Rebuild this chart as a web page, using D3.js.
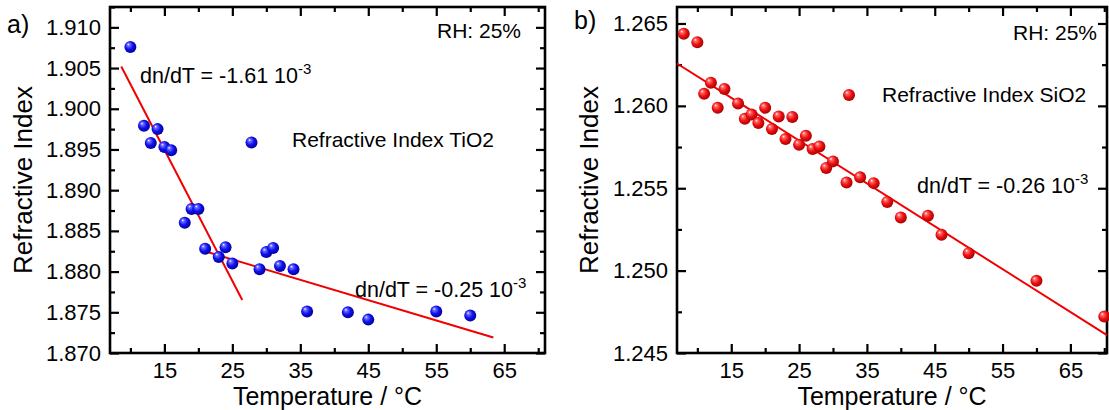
<!DOCTYPE html>
<html><head><meta charset="utf-8">
<script src="https://cdn.jsdelivr.net/npm/d3@7"></script>
<style>
html,body{margin:0;padding:0;background:#fff;}
svg{display:block;font-family:"Liberation Sans",Arial,sans-serif;}
</style></head>
<body><svg id="c" width="1109" height="410"></svg>
<script>
// ---- data ----
const tioTemp = [10,12,13,14,15,16,18,19,20,21,23,24,25,29,30,31,32,34,36,42,45,55,60];
const tioIndex = [1.9076,1.8979,1.8958,1.8975,1.8953,1.8949,1.8860,1.8877,1.8877,1.8828,1.8818,1.8830,1.8810,1.8803,1.8824,1.8829,1.8807,1.8803,1.8751,1.8750,1.8741,1.8751,1.8746];
const sioTemp = [8,10,11,12,13,14,16,17,18,19,20,21,22,23,24,25,26,27,28,29,30,32,34,36,38,40,44,46,50,60,70];
const sioIndex = [1.26437,1.26386,1.26073,1.26140,1.25988,1.26103,1.26014,1.25922,1.25947,1.25896,1.25988,1.25860,1.25936,1.25799,1.25933,1.25764,1.25819,1.25738,1.25754,1.25623,1.25663,1.25535,1.25566,1.25531,1.25417,1.25323,1.25333,1.25217,1.25106,1.24938,1.24721];
const fitA_T = [8.66, 26.46], fitA_N = [1.9052, 1.8765];
const fitB_T = [21.34, 63.4], fitB_N = [1.8824, 1.8719];
const fitC_T = [7, 70.4], fitC_N = [1.26257, 1.24609];
const xTicks = [15,25,35,45,55,65];
const xMinor = [10,20,30,40,50,60,70];
const yTicksA = [1.870,1.875,1.880,1.885,1.890,1.895,1.900,1.905,1.910];
const yTicksB = [1.245,1.250,1.255,1.260,1.265];

const svg = d3.select("#c");
const defs = svg.append("defs");
function grad(id, light, mid, dark){
  const g = defs.append("radialGradient").attr("id", id)
    .attr("cx","45%").attr("cy","45%").attr("r","60%").attr("fx","32%").attr("fy","28%");
  g.append("stop").attr("offset","0%").attr("stop-color","#ffffff");
  g.append("stop").attr("offset","18%").attr("stop-color",light);
  g.append("stop").attr("offset","55%").attr("stop-color",mid);
  g.append("stop").attr("offset","100%").attr("stop-color",dark);
}
grad("gBlue","#7070ff","#1010f0","#00008c");
grad("gRed","#ff7070","#f01010","#9a0000");

function panel(o){
  const g = svg.append("g");
  const x = d3.scaleLinear().domain(o.xd).range([o.x0, o.x1]);
  const y = d3.scaleLinear().domain(o.yd).range([o.y1, o.y0]);
  const yMinor = d3.range(o.yd[0] + o.ystep/2, o.yd[1], o.ystep);
  const addAx = (axis, tr) => {
    const a = g.append("g").attr("transform", tr).call(axis);
    a.select(".domain").remove();
    a.selectAll(".tick line").attr("stroke","#000").attr("stroke-width",2.2);
    a.selectAll("text").attr("font-size", 22).attr("fill","#000")
      .attr("font-family","Liberation Sans, Arial, sans-serif");
    return a;
  };
  addAx(d3.axisBottom(x).tickValues(xTicks).tickSize(-9).tickPadding(9).tickFormat(d3.format("d")), `translate(0,${o.y1})`);
  addAx(d3.axisBottom(x).tickValues(xMinor).tickSize(-5).tickFormat(""), `translate(0,${o.y1})`);
  addAx(d3.axisTop(x).tickValues(xTicks).tickSize(-9).tickFormat(""), `translate(0,${o.y0})`);
  addAx(d3.axisTop(x).tickValues(xMinor).tickSize(-5).tickFormat(""), `translate(0,${o.y0})`);
  addAx(d3.axisLeft(y).tickValues(o.yt).tickSize(-9).tickPadding(9).tickFormat(d3.format(".3f")), `translate(${o.x0},0)`);
  addAx(d3.axisLeft(y).tickValues(yMinor).tickSize(-5).tickFormat(""), `translate(${o.x0},0)`);
  addAx(d3.axisRight(y).tickValues(o.yt).tickSize(-9).tickFormat(""), `translate(${o.x1},0)`);
  addAx(d3.axisRight(y).tickValues(yMinor).tickSize(-5).tickFormat(""), `translate(${o.x1},0)`);
  g.append("rect").attr("x",o.x0).attr("y",o.y0).attr("width",o.x1-o.x0).attr("height",o.y1-o.y0)
    .attr("fill","none").attr("stroke","#000").attr("stroke-width",2.6);

  const line = d3.line().x(d=>x(d[0])).y(d=>y(d[1]));
  o.fits.forEach(f => {
    g.append("path").attr("d", line(d3.zip(f[0], f[1]))).attr("stroke","#f00000")
      .attr("stroke-width",2).attr("fill","none");
  });
  g.selectAll("circle.pt").data(d3.zip(o.T, o.N)).join("circle").attr("class","pt")
    .attr("cx", d=>x(d[0])).attr("cy", d=>y(d[1])).attr("r", 6)
    .attr("fill", `url(#${o.grad})`);

  g.append("circle").attr("cx",o.leg[0]).attr("cy",o.leg[1]).attr("r",6).attr("fill",`url(#${o.grad})`);
  g.append("text").attr("x",o.leg[2]).attr("y",o.leg[3]).attr("font-size",21).text(o.legText);
  g.append("text").attr("x",o.rh[0]).attr("y",o.rh[1]).attr("font-size",21).text("RH: 25%");
  o.ann.forEach(a => {
    const t = g.append("text").attr("x",a[0]).attr("y",a[1]).attr("font-size",21.5);
    t.append("tspan").text(a[2] + " 10");
    t.append("tspan").attr("dy",-9).attr("font-size",15).text("-3");
  });
  g.append("text").attr("x",(o.x0+o.x1)/2).attr("y",405).attr("text-anchor","middle")
    .attr("font-size",25).text("Temperature / °C");
  g.append("text").attr("transform",`translate(${o.ytx},${(o.y0+o.y1)/2}) rotate(-90)`)
    .attr("text-anchor","middle").attr("font-size",26).text("Refractive Index");
  g.append("text").attr("x",o.lab[0]).attr("y",o.lab[1]).attr("font-size",25).text(o.label);
}

panel({x0:110, x1:545, y0:7, y1:353, xd:[7,71], yd:[1.870,1.9125], ystep:0.005, yt:yTicksA,
  T:tioTemp, N:tioIndex, grad:"gBlue", fits:[[fitA_T,fitA_N],[fitB_T,fitB_N]],
  leg:[251.5,142.5,292,147], legText:"Refractive Index TiO2", rh:[437,38],
  ann:[[140,83,"dn/dT = -1.61"],[355,297,"dn/dT = -0.25"]], ytx:32, lab:[7,33], label:"a)"});
panel({x0:677, x1:1107, y0:7, y1:353, xd:[7,70.4], yd:[1.245,1.266], ystep:0.005, yt:yTicksB,
  T:sioTemp, N:sioIndex, grad:"gRed", fits:[[fitC_T,fitC_N]],
  leg:[849,95,882,102], legText:"Refractive Index SiO2", rh:[1013,40],
  ann:[[917,193,"dn/dT = -0.26"]], ytx:598, lab:[574,29], label:"b)"});
</script></body></html>
